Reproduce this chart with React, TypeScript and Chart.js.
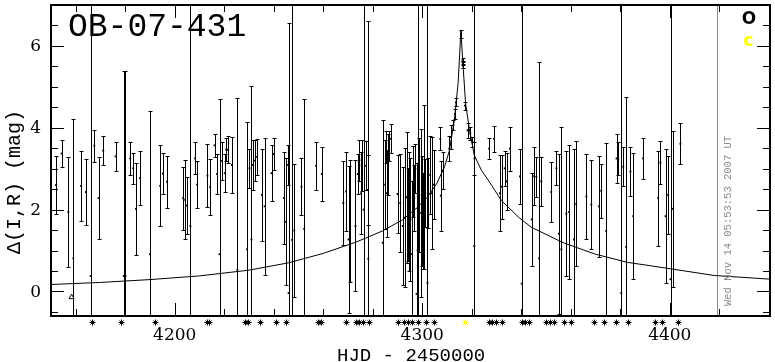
import React, { useEffect, useRef } from 'react';
import { Chart, registerables } from 'chart.js';
Chart.register(...registerables);

// ---- data ----
const obsT = [4152.0, 4154.3, 4157.0, 4159.0, 4162.1, 4164.1, 4166.0, 4167.5, 4169.2, 4171.1, 4176.1, 4179.4, 4180.1, 4182.0, 4183.2, 4184.3, 4186.0, 4190.0, 4194.1, 4195.2, 4196.9,
  4203.4, 4204.2, 4204.9, 4206.3, 4208.2, 4209.0, 4213.2, 4214.3, 4216.1, 4217.1, 4218.1, 4219.1, 4220.2, 4220.8, 4221.5, 4223.1, 4225.3, 4229.2, 4230.2, 4231.0, 4231.6, 4232.4, 4233.2, 4235.2, 4236.3, 4239.1, 4240.0, 4244.1, 4245.0, 4245.7, 4246.0,
  4247.4, 4248.3, 4251.2, 4252.3, 4257.1, 4259.4, 4268.1, 4269.2, 4270.2, 4270.8, 4273.0, 4273.9, 4274.6, 4275.3, 4275.5, 4276.3, 4277.3, 4277.9, 4278.2, 4284.0, 4285.0, 4285.3, 4285.7, 4286.1, 4286.5, 4287.2, 4290.0, 4291.1, 4292.1, 4293.0, 4293.7, 4294.4, 4294.8,
  4295.2, 4295.8, 4296.4, 4296.8, 4297.2, 4297.7, 4298.1, 4298.8, 4299.5, 4299.9, 4300.4, 4300.8, 4301.2, 4302.1, 4302.5, 4303.2, 4303.9, 4304.6, 4307.3, 4307.5, 4308.2, 4310.9, 4311.6, 4312.6, 4313.2, 4313.6, 4315.6, 4316.3, 4316.4, 4316.5, 4317.2, 4318.3, 4319.4, 4320.3, 4321.0, 4321.1, 4327.0, 4329.0, 4331.3, 4332.1, 4333.3, 4334.1, 4335.4, 4339.5, 4340.2,
  4344.2, 4345.2, 4346.1, 4347.2, 4348.1, 4352.1, 4354.2, 4355.2, 4356.2, 4358.2, 4359.3, 4361.3, 4362.2, 4366.3, 4368.3, 4371.4, 4372.3, 4374.3, 4378.5, 4379.2, 4380.4, 4381.2, 4382.4, 4384.1, 4385.2, 4389.2,
  4395.3, 4396.2, 4398.3, 4399.3, 4400.3, 4401.2, 4404.3];
const obsMag = [2.60, 3.37, 1.94, 0.81, 2.58, 2.43, 0.38, 3.56, 2.28, 3.44, 3.30, 0.38, 0.38, 3.25, 3.01, 2.02, 2.77, 0.91, 2.58, 2.88, 2.68,
  2.28, 2.24, 2.10, 1.60, 3.25, 2.61, 2.83, 2.55, 3.57, 2.87, 0.91, 3.19, 2.89, 3.47, 3.46, 3.09, 0.53, 1.03, 3.01, 1.27, 3.09, 3.20, 3.29, 2.36, 2.08, 2.89, 3.36, 2.28, 1.70, 3.09, -0.04,
  1.26, 1.49, 2.56, 1.53, 3.07, 2.87, 2.16, 2.44, 1.27, 1.72, 1.60, 2.87, 3.21, 2.40, 3.08, 2.00, 3.07, 2.48, 0.80, 1.19, 2.61, 3.52, 2.40, 3.10, 3.56, 3.73, 2.38, 2.16, 1.60, 1.80, 2.30, 1.88, 1.96,
  1.76, 0.91, 2.69, 2.28, 3.00, -0.06, 1.00, 2.36, 1.92, 1.96, 1.72, 2.56, 2.40, 0.21, 2.40, 2.85, 2.40, 2.61, 3.73, 2.34, 2.95, 3.49, 3.77, 4.06, 4.34, 4.62, 6.29, 5.65, 5.59, 5.52, 4.54, 3.94, 3.86, 3.65, 1.11, 3.25, 3.49, 3.73, 2.40, 2.56, 3.01, 2.69, 3.49, 2.81, 0.19,
  1.76, 2.82, 2.80, 0.81, 2.69, 2.43, 3.01, 1.41, 1.03, 1.90, 1.94, 1.27, 2.14, 2.32, 2.12, 2.08, 2.46, 1.48, 3.25, 3.25, -0.04, 3.05, 1.09, 2.93, 1.84, 3.25,
  2.28, 3.15, 1.84, 2.36, 0.30, 2.02, 3.61];
const obsErr = [0.70, 0.33, 1.34, 3.40, 0.85, 0.80, 8.0, 0.39, 1.00, 0.36, 0.35, 5.00, 5.00, 0.40, 0.38, 1.13, 0.65, 3.50, 0.99, 0.50, 0.63,
  0.77, 0.96, 0.70, 8.0, 0.39, 0.58, 0.77, 0.68, 0.28, 0.48, 3.80, 0.46, 0.46, 0.28, 0.33, 0.69, 4.20, 3.10, 0.47, 3.75, 0.61, 0.50, 0.44, 1.13, 1.68, 0.68, 0.38, 1.13, 1.55, 0.50, 6.60,
  8.0, 1.63, 0.70, 3.17, 0.59, 0.65, 1.02, 0.97, 1.80, 1.50, 1.60, 0.48, 0.50, 1.00, 0.63, 8.0, 0.60, 0.85, 5.80, 3.00, 1.09, 0.39, 1.06, 0.75, 0.37, 0.35, 0.96, 1.20, 1.45, 1.70, 1.60, 1.13, 1.45,
  1.50, 1.80, 0.87, 0.80, 0.60, 3.20, 8.0, 1.40, 2.05, 1.35, 1.17, 2.00, 0.83, 8.0, 0.85, 0.95, 1.37, 0.85, 0.28, 0.86, 0.45, 0.30, 0.30, 0.12, 0.13, 0.10, 0.10, 0.05, 0.05, 0.05, 0.10, 0.18, 0.15, 0.12, 8.0, 0.40, 0.26, 0.32, 0.93, 0.78, 0.43, 0.69, 0.54, 0.67, 8.0,
  1.13, 0.71, 0.48, 4.80, 0.60, 0.73, 0.42, 1.95, 3.00, 1.53, 1.63, 2.20, 1.53, 1.04, 1.09, 1.23, 0.66, 2.15, 0.60, 0.40, 8.0, 0.48, 3.65, 0.59, 1.54, 0.51,
  1.16, 0.52, 1.64, 0.96, 8.0, 1.90, 0.50];

// model curve
const curveT = [4150, 4170, 4190, 4210, 4230, 4246, 4260, 4273, 4284, 4292, 4298, 4302, 4306, 4309, 4311, 4313, 4314.5, 4315.6, 4316.5, 4317.5, 4319, 4321, 4324, 4327, 4332, 4339, 4344, 4357, 4370, 4383, 4392, 4405, 4418, 4440.5];
const curveMag = [0.17, 0.22, 0.29, 0.38, 0.52, 0.70, 0.93, 1.20, 1.48, 1.75, 2.05, 2.30, 2.65, 3.05, 3.45, 4.20, 5.10, 6.36, 5.50, 4.60, 3.98, 3.33, 2.95, 2.69, 2.22, 1.81, 1.57, 1.19, 0.91, 0.71, 0.63, 0.51, 0.39, 0.30];

// observation time markers (below axis)
const markT = [4166.4, 4178.1, 4191.9, 4212.9, 4213.7, 4228.5, 4229.5, 4234.3, 4241.0, 4245.0, 4257.7, 4258.9, 4269.2, 4273.3, 4274.6, 4275.9, 4278.6,
  4290.0, 4292.7, 4294.4, 4296.0, 4298.4, 4301.5, 4304.8, 4327.0, 4328.2, 4329.8, 4332.4, 4340.3, 4341.5, 4343.1, 4349.9, 4351.6, 4353.2, 4357.3, 4360.0,
  4369.4, 4373.4, 4378.1, 4383.2, 4394.2, 4396.9, 4403.3];
const markYellowT = [4317.2];
const aT = [4158.3];
const aMag = [-0.14];

const xTickLabels = [4200, 4300, 4400];
const yTickLabels = [0, 2, 4, 6];
const nowT = 4419.2;
const titleText = 'OB-07-431';
const xTitle = 'HJD - 2450000';
const yTitle = 'Δ(I,R) (mag)';
const dateText = 'Wed Nov 14 05:53:53 2007 UT';

const X_MIN = 4150, X_MAX = 4440.5, Y_MIN = -0.6, Y_MAX = 7.0;
const MARK_ROW = -0.74;

function drawAsterisk(ctx: CanvasRenderingContext2D, px: number, py: number, color: string) {
  ctx.strokeStyle = color;
  ctx.lineWidth = 1;
  ctx.beginPath();
  ctx.moveTo(px - 3, py); ctx.lineTo(px + 3, py);
  ctx.moveTo(px, py - 3); ctx.lineTo(px, py + 3);
  ctx.moveTo(px - 2, py - 2); ctx.lineTo(px + 2, py + 2);
  ctx.moveTo(px - 2, py + 2); ctx.lineTo(px + 2, py - 2);
  ctx.stroke();
}

const decorPlugin = {
  id: 'decor',
  beforeDatasetsDraw(chart: any) {
    const { ctx, chartArea: a, scales } = chart;
    const x = scales.x, y = scales.y;
    ctx.save();
    ctx.beginPath();
    ctx.rect(a.left, a.top, a.right - a.left, a.bottom - a.top);
    ctx.clip();
    // gray "now" line
    ctx.strokeStyle = '#8c8c8c';
    ctx.lineWidth = 1;
    const nx = Math.round(x.getPixelForValue(nowT)) + 0.5;
    ctx.beginPath();
    ctx.moveTo(nx, a.top);
    ctx.lineTo(nx, a.bottom);
    ctx.stroke();
    // error bars
    ctx.strokeStyle = '#000';
    ctx.lineWidth = 1;
    ctx.beginPath();
    for (let i = 0; i < obsT.length; i++) {
      const px = Math.round(x.getPixelForValue(obsT[i])) + 0.5;
      const yt = Math.round(y.getPixelForValue(obsMag[i] + obsErr[i])) + 0.5;
      const yb = Math.round(y.getPixelForValue(obsMag[i] - obsErr[i])) + 0.5;
      ctx.moveTo(px, yt);
      ctx.lineTo(px, yb);
      ctx.moveTo(px - 2, yt);
      ctx.lineTo(px + 2, yt);
      ctx.moveTo(px - 2, yb);
      ctx.lineTo(px + 2, yb);
    }
    ctx.stroke();
    ctx.restore();
  },
  afterDraw(chart: any) {
    const { ctx, chartArea: a, scales } = chart;
    const x = scales.x, y = scales.y;
    ctx.save();
    // frame
    ctx.strokeStyle = '#000';
    ctx.lineWidth = 2;
    ctx.strokeRect(a.left, a.top, a.right - a.left, a.bottom - a.top);
    // ticks
    ctx.lineWidth = 1;
    ctx.beginPath();
    for (let k = -1; k <= 14; k++) {
      const v = k * 0.5;
      const major = k % 4 === 0;
      const len = major ? 13 : 7;
      const py = Math.round(y.getPixelForValue(v)) + 0.5;
      ctx.moveTo(a.left, py); ctx.lineTo(a.left + len, py);
      ctx.moveTo(a.right - len, py); ctx.lineTo(a.right, py);
    }
    for (let t = 4160; t <= 4440; t += 20) {
      const major = t % 100 === 0;
      const len = major ? 13 : 7;
      const px = Math.round(x.getPixelForValue(t)) + 0.5;
      ctx.moveTo(px, a.top); ctx.lineTo(px, a.top + len);
      ctx.moveTo(px, a.bottom - len); ctx.lineTo(px, a.bottom);
    }
    ctx.stroke();
    // observation markers below the axis
    const my = Math.round(y.getPixelForValue(MARK_ROW)) + 0.5;
    for (const t of markT) drawAsterisk(ctx, Math.round(x.getPixelForValue(t)) + 0.5, my, '#000');
    for (const t of markYellowT) drawAsterisk(ctx, Math.round(x.getPixelForValue(t)) + 0.5, my, '#ffff00');
    // tick labels
    ctx.fillStyle = '#000';
    ctx.font = '17px "DejaVu Serif"';
    ctx.textAlign = 'right';
    ctx.textBaseline = 'middle';
    for (const v of yTickLabels) {
      ctx.fillText(String(v), 41, y.getPixelForValue(v) + 1);
    }
    ctx.textAlign = 'center';
    ctx.textBaseline = 'alphabetic';
    for (const t of xTickLabels) {
      ctx.fillText(String(t), x.getPixelForValue(t), 339.5);
    }
    // title
    ctx.textAlign = 'left';
    ctx.font = '33px "Liberation Mono"';
    ctx.fillText(titleText, 68, 36);
    // x title
    ctx.font = '19px "Liberation Mono"';
    ctx.fillText(xTitle, 337, 361);
    // y title
    ctx.save();
    ctx.translate(20, 182);
    ctx.rotate(-Math.PI / 2);
    ctx.textAlign = 'center';
    ctx.font = '20px "Liberation Mono"';
    ctx.fillText(yTitle, 0, 0);
    ctx.restore();
    // date stamp
    ctx.save();
    ctx.translate(730.5, 306);
    ctx.rotate(-Math.PI / 2);
    ctx.textAlign = 'left';
    ctx.fillStyle = '#8c8c8c';
    ctx.font = '10.5px "Liberation Mono"';
    ctx.fillText(dateText, 0, 0);
    ctx.restore();
    // legend
    ctx.textAlign = 'center';
    ctx.font = 'bold 17px "DejaVu Sans"';
    ctx.fillStyle = '#000';
    ctx.fillText('O', 749, 23.5);
    ctx.fillStyle = '#ffff00';
    ctx.fillText('c', 748.5, 46);
    ctx.restore();
  },
};

export default function App() {
  const ref = useRef<HTMLCanvasElement>(null);
  useEffect(() => {
    document.body.style.margin = '0';
    const canvas = ref.current!;
    const chart = new Chart(canvas, {
      type: 'scatter',
      data: {
        datasets: [
          {
            type: 'line',
            data: curveT.map((t, i) => ({ x: t, y: curveMag[i] })),
            borderColor: '#000',
            borderWidth: 1,
            pointRadius: 0,
            tension: 0,
            fill: false,
          } as any,
          {
            data: obsT.map((t, i) => ({ x: t, y: obsMag[i] })),
            pointStyle: 'rect',
            pointRadius: 1.3,
            backgroundColor: '#000',
            borderColor: '#000',
            borderWidth: 0,
          },
          {
            data: aT.map((t, i) => ({ x: t, y: aMag[i] })),
            pointStyle: 'triangle',
            pointRadius: 3,
            backgroundColor: 'rgba(0,0,0,0)',
            borderColor: '#000',
            borderWidth: 1,
          },
        ],
      },
      options: {
        responsive: false,
        animation: false,
        devicePixelRatio: 1,
        layout: { padding: { left: 51, right: 2, top: 1, bottom: 46 } },
        plugins: { legend: { display: false }, tooltip: { enabled: false } },
        events: [],
        scales: {
          x: { type: 'linear', min: X_MIN, max: X_MAX, display: false },
          y: { type: 'linear', min: Y_MIN, max: Y_MAX, display: false },
        },
      },
      plugins: [decorPlugin],
    });
    return () => chart.destroy();
  }, []);
  return (
    <canvas ref={ref} width={775} height={362} style={{ display: 'block', width: 775, height: 362 }} />
  );
}
